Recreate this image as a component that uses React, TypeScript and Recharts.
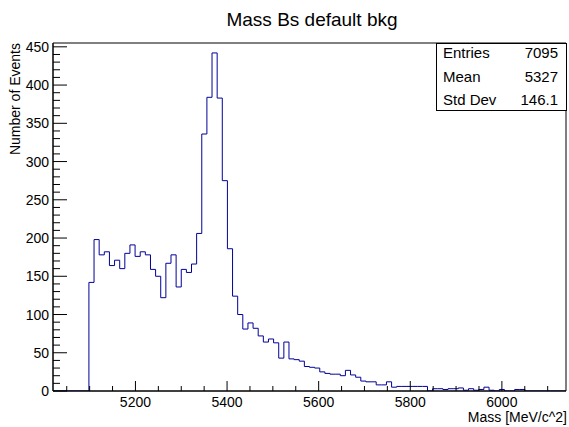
import React from 'react';
import { LineChart, Line, XAxis, YAxis, ReferenceArea } from 'recharts';

// histogram range and binning
const xMin = 5020;
const xMax = 6140;
const nBins = 100;

// bin contents, left to right
const binCounts = [
  0, 0, 0, 0, 0, 0, 0,
  142, 198, 178, 182, 164, 171, 160, 180, 191, 176, 182, 178, 159, 150, 122, 167, 178, 136, 159, 155, 166,
  206, 336, 384, 442, 383, 275, 186, 124, 100, 81, 89, 82,
  72, 64, 68, 63, 43, 64, 42, 41, 39, 32, 31, 30, 25, 23, 22, 22, 20, 27, 21, 18, 13, 12, 12,
  8, 8, 12, 5, 6, 6, 6, 6, 6, 6, 0, 3, 3, 2, 3, 3, 4, 1, 3, 1, 2, 5, 1, 0, 2, 0, 0, 2, 2,
  0, 0, 0, 0, 0, 0, 0, 0,
];

const xMajorTicks = [5200, 5400, 5600, 5800, 6000];
const xTicks = [
  5050, 5100, 5150, 5200, 5250, 5300, 5350, 5400, 5450, 5500, 5550,
  5600, 5650, 5700, 5750, 5800, 5850, 5900, 5950, 6000, 6050, 6100,
];
const yMajorTicks = [0, 50, 100, 150, 200, 250, 300, 350, 400, 450];
const yMax = 455;

const statLabels = ['Entries', 'Mean', 'Std Dev'];
const statValues = ['7095', '5327', '146.1'];

const FONT = '"Liberation Sans", Arial, Helvetica, sans-serif';

// minor y ticks every 10
const yTicks: number[] = [];
for (let v = 0; v <= 450; v += 10) yTicks.push(v);

export default function App() {
  const binWidth = (xMax - xMin) / nBins;
  // step line: one point per bin low edge plus the closing upper edge
  const data = binCounts.map((c, i) => ({ x: xMin + i * binWidth, y: c }));
  data.push({ x: xMax, y: binCounts[binCounts.length - 1] });

  const XTick = (props: any) => {
    const { x, y, payload } = props;
    const major = xMajorTicks.includes(payload.value);
    return (
      <g>
        <line x1={x} x2={x} y1={y} y2={y - (major ? 10 : 5)} stroke="#000" />
        {major && (
          <text x={x} y={y + 16} textAnchor="middle" fontSize={14} fontFamily={FONT} fill="#000">
            {payload.value}
          </text>
        )}
      </g>
    );
  };

  const YTick = (props: any) => {
    const { x, y, payload } = props;
    const major = yMajorTicks.includes(payload.value);
    return (
      <g>
        <line x1={x} x2={x + (major ? 14 : 7)} y1={y} y2={y} stroke="#000" />
        {major && (
          <text x={x - 4} y={y + 5} textAnchor="end" fontSize={14} fontFamily={FONT} fill="#000">
            {payload.value}
          </text>
        )}
      </g>
    );
  };

  return (
    <div style={{ position: 'absolute', left: 0, top: 0, width: 569, height: 427, background: '#fff' }}>
      <LineChart width={569} height={427} data={data} margin={{ top: 43, right: 3, bottom: 35, left: 52 }}>
        <XAxis
          type="number"
          dataKey="x"
          domain={[xMin, xMax]}
          ticks={xTicks}
          interval={0}
          height={1}
          tickSize={0}
          tickMargin={0}
          tickLine={false}
          axisLine={{ stroke: '#000' }}
          tick={XTick}
          allowDataOverflow
        />
        <YAxis
          type="number"
          domain={[0, yMax]}
          ticks={yTicks}
          interval={0}
          width={1}
          tickSize={0}
          tickMargin={0}
          tickLine={false}
          axisLine={{ stroke: '#000' }}
          tick={YTick}
          allowDataOverflow
        />
        <ReferenceArea x1={xMin} x2={xMax} y1={0} y2={yMax} fill="none" stroke="#000" strokeWidth={1} />
        <Line
          type="stepAfter"
          dataKey="y"
          stroke="#000099"
          strokeWidth={1}
          dot={false}
          isAnimationActive={false}
        />
      </LineChart>
      <svg width={569} height={427} style={{ position: 'absolute', left: 0, top: 0, pointerEvents: 'none' }}>
        <text x={312} y={26} textAnchor="middle" fontSize={19} fontFamily={FONT} fill="#000">
          Mass Bs default bkg
        </text>
        <text transform="translate(20, 43) rotate(-90)" textAnchor="end" fontSize={14} fontFamily={FONT} fill="#000">
          Number of Events
        </text>
        <text x={567} y={422} textAnchor="end" fontSize={14} fontFamily={FONT} fill="#000">
          Mass [MeV/c^2]
        </text>
        <rect x={436.5} y={43.5} width={130} height={67} fill="#fff" stroke="#000" />
        {statLabels.map((l, i) => (
          <g key={l}>
            <text x={443} y={58 + i * 23.5} fontSize={15} fontFamily={FONT} fill="#000">
              {l}
            </text>
            <text x={558} y={58 + i * 23.5} textAnchor="end" fontSize={15} fontFamily={FONT} fill="#000">
              {statValues[i]}
            </text>
          </g>
        ))}
      </svg>
    </div>
  );
}
